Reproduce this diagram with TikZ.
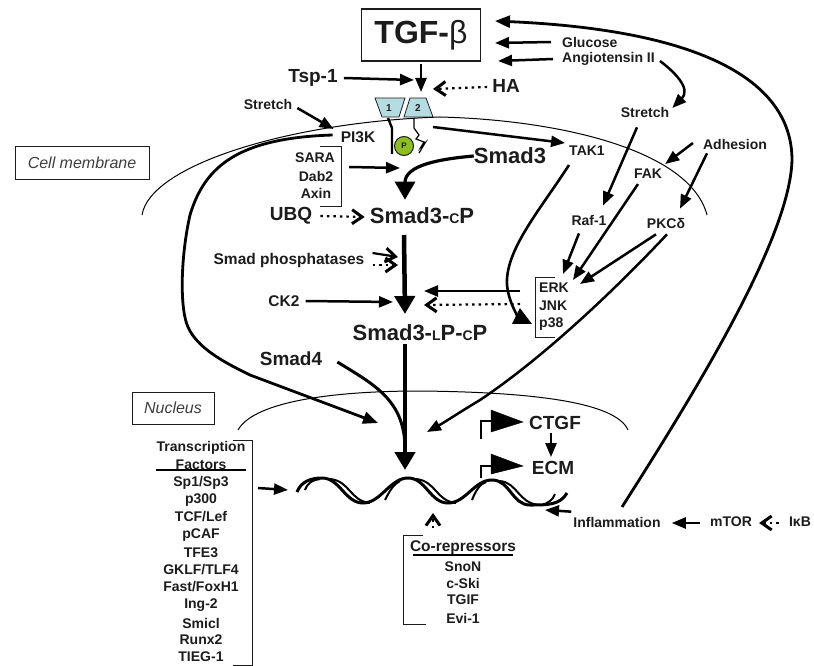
\documentclass[tikz,border=0pt]{standalone}
\usepackage{fontspec}
\setmainfont{Liberation Sans}
\usetikzlibrary{arrows.meta,calc}
\definecolor{ink}{HTML}{1C1C1C}
\definecolor{rec}{HTML}{B5DCE0}
\definecolor{pgreen}{HTML}{8DBF1E}
\newcommand{\fs}[1]{\fontsize{#1}{#1}\selectfont}
\newcommand{\smadc}{{\fs{14}C}}
\newcommand{\smadl}{{\fs{14}L}}
\tikzset{
  lab/.style={text=ink,font=\bfseries\fs{14},inner sep=0pt},
  labm/.style={text=ink,font=\bfseries\fs{15.5},inner sep=0pt},
  labb/.style={text=ink,font=\bfseries\fs{19},inner sep=0pt},
  labh/.style={text=ink,font=\bfseries\fs{22},inner sep=0pt},
  capbox/.style={draw=ink,line width=1pt,text=ink!85,font=\itshape\fs{16},inner sep=0pt},
  arr/.style={draw=black,line width=2.5pt,-{Triangle[length=14pt,width=11pt]}},
  arrb/.style={draw=black,line width=2.8pt,-{Triangle[length=15pt,width=12pt]}},
  arrt/.style={draw=black,line width=2.6pt,-{Triangle[length=18pt,width=17pt]}},
  arrh/.style={draw=black,line width=4.5pt,-{Triangle[length=18pt,width=20pt]}},
  inh/.style={draw=black,line width=2.2pt,dash pattern=on 2.5pt off 4pt,-{Straight Barb[length=10pt,width=14pt,line width=3pt]}},
  inhs/.style={draw=black,line width=2.2pt,-{Straight Barb[length=10pt,width=14pt,line width=3pt]}},
  brk/.style={draw=ink,line width=1pt},
  memb/.style={draw=black,line width=1pt},
  strand/.style={draw=black,line width=3pt},
  strandi/.style={draw=black,line width=2pt},
  recbox/.style={draw=ink,fill=rec,line width=0.8pt}
}
\begin{document}
\begin{tikzpicture}[x=1pt,y=-1pt]
\useasboundingbox (0,0) rectangle (814,666);
% membranes
\draw[memb] (142,215) .. controls (150,165) and (290,122) .. (440,117) .. controls (560,120) and (690,150) .. (707,215);
\draw[memb] (238,430) .. controls (255,400) and (340,391) .. (420,391) .. controls (520,392) and (615,400) .. (628,430);
% caption boxes
\node[capbox,minimum width=134pt,minimum height=32pt] (cell) at (82,163) {Cell membrane};
\node[capbox,minimum width=82pt,minimum height=32pt] (nuc) at (173,408) {Nucleus};
% main nodes
\node[draw=ink,line width=1.4pt,minimum width=119pt,minimum height=52pt,inner sep=0pt,text=ink,font=\bfseries\fs{32}] (tgf) at (421,35) {TGF-{\mdseries β}};
\node[labb] (tsp) at (313,78) {Tsp-1};
\node[labb] (ha) at (506,86) {HA};
\node[lab,anchor=west] (glu) at (562,42) {Glucose};
\node[lab,anchor=west] (ang) at (562,59) {Angiotensin II};
\node[lab] (strr) at (645,112) {Stretch};
\node[lab] (strl) at (268,104) {Stretch};
\node[labm] (pi3k) at (358,137) {PI3K};
\node[lab] (tak) at (587,151) {TAK1};
\node[lab] (adh) at (735,144) {Adhesion};
\node[lab] (fak) at (648,174) {FAK};
\node[lab] (raf) at (589,220) {Raf-1};
\node[lab] (pkc) at (666,223) {PKCδ};
\node[lab] (sara) at (315,158) {SARA};
\node[lab] (dab) at (316,176) {Dab2};
\node[lab] (axin) at (316,193) {Axin};
\node[labh] (s3) at (510,156) {Smad3};
\node[labb] (ubq) at (291,216) {UBQ};
\node[labh] (s3c) at (422,216) {Smad3-\smadc P};
\node[labm] (phos) at (289,260) {Smad phosphatases};
\node[labm] (ck2) at (284,301) {CK2};
\node[lab,anchor=west] (erk) at (539,288) {ERK};
\node[lab,anchor=west] (jnk) at (539,306) {JNK};
\node[lab,anchor=west] (p38) at (539,324) {p38};
\node[labh] (s3lc) at (420,333) {Smad3-\smadl P-\smadc P};
\node[labb] (s4) at (291,359) {Smad4};
\node[labb] (ctgf) at (555,423) {CTGF};
\node[labb] (ecm) at (553,468) {ECM};
\node[lab] (infl) at (617,522) {Inflammation};
\node[lab] (mtor) at (731,522) {mTOR};
\node[lab] (ikb) at (800,522) {IκB};
% transcription factors
\node[lab] (tf1) at (201,448) {Transcription};
\node[lab] (tf2) at (201,465) {Factors};
\foreach \n/\t/\y in {a/Sp1\slash Sp3/483,b/p300/500,c/TCF\slash Lef/517,d/pCAF/535,e/TFE3/553,f/GKLF\slash TLF4/570,g/Fast\slash FoxH1/587,h/Ing-2/605,i/Smicl/623,j/Runx2/640,k/TIEG-1/657}
  \node[lab] (tf\n) at (201,\y) {\t};
\draw[line width=2pt,draw=black] (156,470) -- (246,470);
\draw[brk] (233,440) -- (252,440) -- (252,665) -- (233,665);
% co-repressors
\node[labm] (cor) at (463,548) {Co-repressors};
\draw[line width=2pt,draw=black] (413,555) -- (513,555);
\foreach \n/\t/\y in {a/SnoN/567,b/c-Ski/583,c/TGIF/600,d/Evi-1/618}
  \node[lab] (cr\n) at (463,\y) {\t};
\draw[brk] (423,535) -- (403,535) -- (403,624) -- (426,624);
% brackets
\draw[brk] (320,147) -- (341,147) -- (341,206) -- (320,206);
\draw[brk] (555,277) -- (535,277) -- (535,337) -- (555,337);
% receptor
\draw[recbox] (375,98) -- (405,98) -- (399,117) -- (382,117) -- cycle;
\draw[recbox] (410,98) -- (426,98) -- (433,117) -- (404,117) -- cycle;
\node[text=ink,font=\bfseries\fs{10},inner sep=0pt] (r1) at (389,108) {1};
\node[text=ink,font=\bfseries\fs{10},inner sep=0pt] (r2) at (418,108) {2};
\draw[line width=2.4pt,draw=black] (388,118) -- (392,128) -- (392,154);
\draw[line width=1.2pt,draw=black] (414,118) -- (414,128) -- (419,135) -- (416,139) -- (424,142) -- (421,147) -- (425,143) -- (419,153);
\node[circle,draw=ink,fill=pgreen,line width=1pt,minimum size=19pt,inner sep=0pt,font=\bfseries\fs{8},text=ink] (p) at (404,146) {P};
% free ends
\coordinate (recin) at (421,92);
\coordinate (recin2) at (414,80);
\coordinate (recin3) at (433,89);
\coordinate (recout) at (433,127);
\coordinate (tgfin1) at (495,21);
\coordinate (tgfin2) at (495,43);
\coordinate (tgfin3) at (498,61);
\coordinate (s3in) at (400,168);
\coordinate (ph1) at (398,257);
\coordinate (ph2) at (398,265);
\coordinate (ckin) at (393,302);
\coordinate (ek1) at (424,291);
\coordinate (ek2) at (424,305);
\coordinate (nl) at (378,423);
\coordinate (nr) at (427,432);
\coordinate (dna) at (405,470);
\coordinate (tfin) at (288,490);
\coordinate (dnar) at (545,510);
\coordinate (corin) at (433,513);
\coordinate (erkin1) at (563,274);
\coordinate (erkin2) at (573,280);
\coordinate (erkin3) at (580,284);
\coordinate (mainin) at (405,314);
% DNA
\draw[strand] (297,492) .. controls (301,482) and (310,478) .. (322,478) .. controls (340,478) and (345,503) .. (363,503) .. controls (381,503) and (390,478) .. (408,478) .. controls (426,478) and (430,503) .. (448,503) .. controls (466,503) and (474,480) .. (492,480) .. controls (510,480) and (512,505) .. (530,505) .. controls (548,505) and (560,505) .. (567,493);
\draw[strandi] (305,490) .. controls (308,482) and (313,480) .. (320,479);
\draw[strandi] (330,479) .. controls (350,481) and (350,501) .. (370,503);
\draw[strandi] (385,500) .. controls (390,490) and (394,484) .. (400,481);
\draw[strandi] (416,479) .. controls (436,481) and (436,501) .. (456,503);
\draw[strandi] (472,500) .. controls (476,490) and (480,484) .. (486,482);
\draw[strandi] (500,481) .. controls (518,483) and (518,503) .. (539,505);
\draw[strandi] (555,494) .. controls (553,500) and (548,503) .. (542,505);
% connectors
\draw[arr] ([shift={(0,2)}]tgf.south) -- (recin);
\draw[arr] ([shift={(6,0)}]tsp.east) -- (recin2);
\draw[inh] ([shift={(-5,1)}]ha.west) -- (recin3);
\draw[arr] ([shift={(-11,0)}]glu.west) -- (tgfin2);
\draw[arr] ([shift={(-9,0)}]ang.west) -- (tgfin3);
\draw[arr] ([shift={(5,2)}]ang.east) .. controls (672,70) and (692,88) .. ([shift={(3,-4)}]strr.east);
\draw[arrb] (622,507) .. controls (690,400) and (790,240) .. (792,160) .. controls (792,80) and (700,30) .. (tgfin1);
\draw[arr] ([shift={(5,4)}]strl.east) -- ([shift={(-7,-8)}]pi3k.west);
\draw[arrb] ([shift={(-8,-2)}]pi3k.west) .. controls (240,138) and (205,165) .. (190,215) .. controls (180,260) and (180,310) .. (188,327) .. controls (198,350) and (230,365) .. (250,375) -- (nl);
\draw[arr] (recout) -- ([shift={(-4,-8)}]tak.west);
\draw[arr] ([shift={(14,9)}]sara.east) -- (s3in);
\draw[arrh,line width=3.2pt] (s3.west) .. controls (440,159) and (405,165) .. ([shift={(-17,-8)}]s3c.north);
\draw[inh] ([shift={(8,0)}]ubq.east) -- ([shift={(-5,1)}]s3c.west);
\draw[arrh] (404,235) -- (mainin);
\draw[inhs] ([shift={(8,-7)}]phos.east) -- (ph1);
\draw[inh] ([shift={(8,5)}]phos.east) -- (ph2);
\draw[arr] ([shift={(6,0)}]ck2.east) -- (ckin);
\draw[arr] ([shift={(-19,3)}]erk.west) -- (ek1);
\draw[inh] ([shift={(-19,-2)}]jnk.west) -- (ek2);
\draw[arrh] ([shift={(-15,3)}]s3lc.south) -- (dna);
\draw[line width=3pt,draw=black] ([shift={(15,3)}]s4.east) .. controls (375,385) and (403,400) .. (405,445);
\draw[arrt] ([shift={(-18,9)}]tak.south) .. controls (540,210) and (505,250) .. (507,285) .. controls (509,305) and (520,318) .. ([shift={(-7,0)}]p38.west);
\draw[arr] ([shift={(-8,10)}]strr.south) -- ([shift={(14,-9)}]raf.north);
\draw[arr] ([shift={(-10,-1)}]adh.west) -- ([shift={(3,-5)}]fak.north east);
\draw[arr] ([shift={(-28,4)}]adh.south) -- ([shift={(14,-9)}]pkc.north);
\draw[arr] ([shift={(-10,8)}]raf.south) -- (erkin1);
\draw[arr] ([shift={(-10,5)}]fak.south) -- (erkin2);
\draw[arr] ([shift={(-10,6)}]pkc.south) -- (erkin3);
\draw[arr] ([shift={(1,6)}]pkc.south) .. controls (610,295) and (540,360) .. (480,400) .. controls (460,412) and (445,422) .. (nr);
\draw[arr] ([shift={(-4,3)}]ctgf.south) -- ([shift={(-2,-4)}]ecm.north);
\draw[arr] (258,488) -- (tfin);
\draw[arr] ([shift={(-2,-5)}]infl.north west) -- (dnar);
\draw[arr] ([shift={(-10,1)}]mtor.west) -- ([shift={(11,1)}]infl.east);
\draw[inh] ([shift={(-10,1)}]ikb.west) -- ([shift={(7,1)}]mtor.east);
\draw[inh] (433,528) -- (corin);
% promoters
\draw[line width=2.4pt,draw=black] (481,439) -- (481,421) -- (493,421);
\draw[fill=black,draw=black] (491,410) -- (523,422) -- (491,432) -- cycle;
\draw[line width=2.4pt,draw=black] (481,478) -- (481,466) -- (493,466);
\draw[fill=black,draw=black] (491,454) -- (523,466) -- (491,474) -- cycle;
\end{tikzpicture}
\end{document}
